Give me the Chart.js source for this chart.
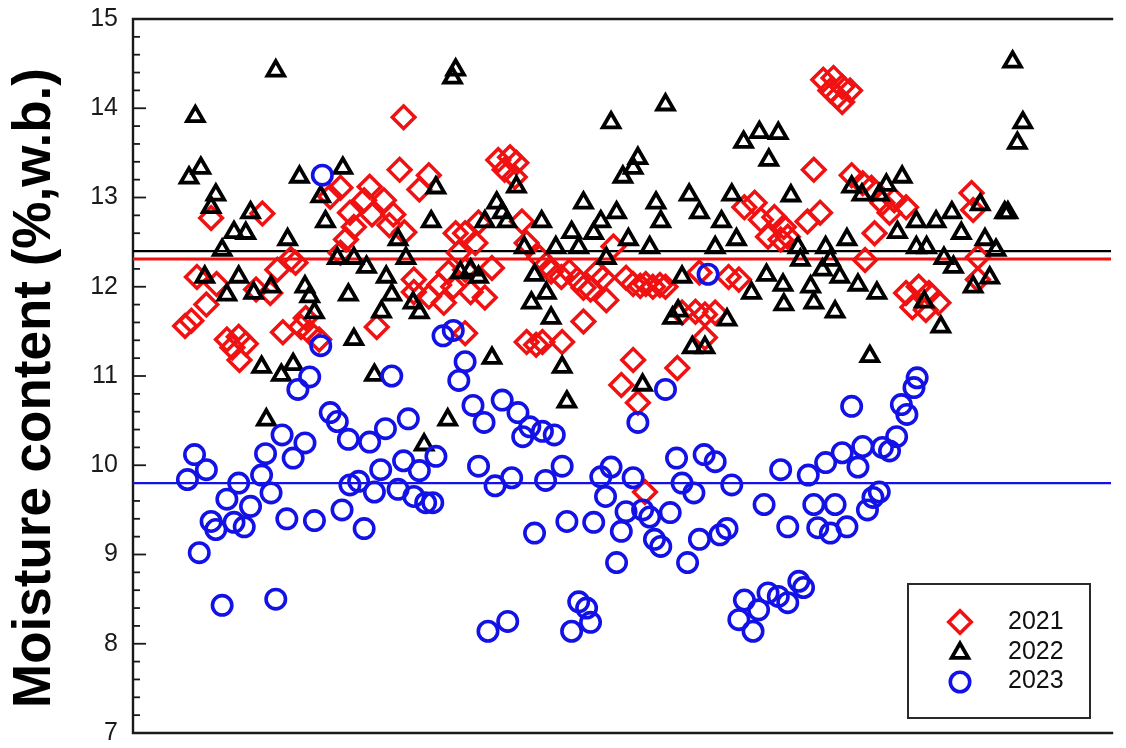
<!DOCTYPE html>
<html>
<head>
<meta charset="utf-8">
<title>Moisture content 2021-2023</title>
<script src="https://cdn.jsdelivr.net/npm/chart.js@4.4.0/dist/chart.umd.min.js"></script>
<style>
  html, body { margin: 0; padding: 0; background: #ffffff; }
  #wrap { width: 1126px; height: 748px; }
</style>
</head>
<body>
<div id="wrap"><canvas id="mc" width="1126" height="748"></canvas></div>
<script>
// Sample number (x) and moisture content in %, wet basis (y), one pair of arrays per year
const sample2021 = [6.6,7.4,8.1,9.3,9.9,10.6,11.9,12.6,13.4,13.5,14.3,15.6,16.4,17.4,18.3,19.0,20.0,20.6,21.3,21.9,22.4,23.6,25.0,26.3,26.3,27.0,27.5,28.0,29.3,30.0,30.3,30.9,31.8,32.5,33.0,33.8,34.3,34.4,35.6,35.6,36.3,37.5,37.5,38.8,39.4,40.0,40.6,40.9,41.3,42.1,42.1,42.1,42.8,43.4,43.8,44.6,45.5,46.3,47.1,47.8,48.4,48.6,49.3,49.9,49.9,51.1,51.5,51.9,52.4,53.0,54.3,54.4,55.3,56.3,57.1,57.1,58.0,58.8,59.6,60.0,60.9,61.9,62.5,63.4,63.4,64.0,64.3,64.9,65.0,65.9,66.8,67.5,69.0,69.6,71.3,71.8,72.5,72.5,73.8,75.5,76.8,77.5,78.8,79.6,80.5,81.3,82.1,82.5,83.0,85.5,86.3,87.1,87.5,88.4,88.8,89.3,89.9,89.9,90.9,91.1,92.5,92.8,93.6,94.0,95.0,95.9,96.5,98.0,98.0,98.8,99.6,100.5,100.9,102.1,106.3,106.5,107.1,107.1];
const mc2021 = [11.56,11.62,12.11,11.80,12.77,12.03,11.41,11.32,11.44,11.18,11.36,11.97,12.82,11.93,12.19,11.49,12.31,12.27,11.55,11.65,11.49,11.41,13.01,13.11,12.38,12.53,12.83,12.67,12.97,13.12,12.81,11.55,12.97,12.69,12.81,13.31,13.90,12.61,12.08,11.94,13.09,13.25,11.89,12.02,11.82,12.16,12.00,12.60,12.38,12.60,12.19,11.48,11.94,12.49,12.72,11.88,12.21,13.42,13.31,13.45,13.23,13.39,12.73,12.49,11.38,11.35,12.33,11.38,12.25,12.17,12.11,11.38,12.17,12.08,11.99,11.61,11.97,12.16,12.10,11.85,12.45,10.90,12.10,12.03,11.18,10.70,12.01,9.70,12.03,12.00,12.02,12.00,11.09,11.71,11.72,12.16,11.69,11.43,11.71,12.11,12.08,12.89,12.94,12.75,12.56,12.78,12.53,12.67,12.56,12.73,13.31,12.83,14.32,14.20,14.34,14.13,14.24,14.07,14.20,13.25,13.16,12.30,13.11,12.60,12.94,12.83,12.97,12.89,11.93,11.77,12.00,11.74,11.93,11.82,13.05,12.86,12.33,12.08];

const sample2022 = [7.1,7.9,8.6,9.1,9.9,10.5,11.3,11.9,12.8,13.4,14.3,14.9,15.3,16.3,16.9,17.5,18.1,18.8,19.6,20.3,21.1,21.8,22.4,23.0,23.8,24.4,25.9,26.6,27.3,28.0,28.0,29.6,30.6,31.5,32.1,32.8,33.6,34.6,35.5,36.3,36.9,37.8,38.4,39.9,40.5,40.9,41.5,42.8,43.8,44.6,45.5,46.1,46.8,47.4,48.6,49.6,50.5,50.9,51.8,52.4,53.0,53.6,54.4,55.0,55.6,56.5,57.1,58.4,59.3,60.0,60.6,61.3,62.1,62.8,63.4,64.0,64.6,65.5,66.3,66.9,67.5,68.4,69.1,69.6,70.5,70.9,71.8,72.5,73.8,74.6,75.3,75.9,76.5,77.4,78.4,79.4,80.3,80.6,81.8,82.4,82.5,83.4,84.3,84.6,85.9,86.3,87.4,87.8,88.4,89.0,89.6,90.5,91.1,91.9,92.4,93.4,94.3,94.6,95.5,96.9,97.5,99.3,99.3,100.3,100.6,101.8,102.4,102.8,103.8,104.0,105.0,106.5,107.4,108.0,108.6,109.4,110.5,110.9,111.5,112.1,112.8];
const mc2022 = [13.22,13.91,13.33,12.11,12.89,13.03,12.41,11.91,12.61,12.11,12.60,12.83,11.93,11.10,10.51,12.00,14.42,11.01,12.53,11.13,13.23,12.00,11.89,11.71,13.01,12.73,12.32,13.33,11.91,12.32,11.41,12.22,11.01,11.72,12.11,11.91,12.53,12.32,11.82,11.71,10.23,12.73,13.11,10.51,14.34,14.43,12.16,12.19,12.11,12.73,11.20,12.94,12.83,12.73,13.12,12.44,11.82,12.13,12.73,11.93,11.65,12.44,11.10,10.71,12.61,12.44,12.94,12.60,12.73,12.32,13.84,12.83,13.23,12.53,13.33,13.44,10.90,12.44,12.94,12.73,14.04,11.65,11.73,12.11,13.03,11.32,12.83,11.32,12.44,12.73,11.63,13.03,12.53,13.62,11.93,13.73,12.13,13.42,13.72,12.02,11.80,13.02,12.44,12.30,12.00,11.82,12.19,12.44,12.30,11.72,12.11,12.53,13.12,12.02,13.03,11.22,11.93,13.03,13.14,12.61,13.23,12.73,12.44,11.83,12.44,12.73,11.55,12.32,12.83,12.22,12.60,12.00,12.92,12.53,12.10,12.41,12.83,12.83,14.52,13.61,13.84];

const sample2023 = [6.9,7.8,8.4,9.3,9.9,10.5,11.3,11.9,12.8,13.4,14.1,14.9,16.3,16.8,17.5,18.1,18.9,19.5,20.3,20.9,21.8,22.4,23.0,23.8,24.0,25.0,25.9,26.5,27.3,27.5,28.6,29.3,30.0,30.6,31.4,32.0,32.8,33.6,34.3,34.9,35.6,36.3,37.1,38.0,38.4,39.3,40.6,41.3,42.1,43.1,43.8,44.5,45.0,45.9,46.8,47.5,48.0,48.8,49.4,50.3,50.9,51.9,52.3,53.4,54.4,55.0,55.6,56.5,57.5,58.0,58.4,59.3,59.9,60.6,61.3,61.9,62.5,63.4,64.0,64.6,65.5,66.1,66.9,67.5,68.1,68.9,69.6,70.3,71.1,71.8,72.4,72.9,73.8,74.4,75.3,75.9,76.8,77.5,78.6,79.3,80.0,80.5,81.8,82.1,83.0,83.0,84.4,85.0,85.6,86.3,86.8,87.8,88.4,89.0,89.9,90.5,91.1,91.9,92.5,93.1,93.8,94.6,95.0,95.9,96.8,97.4,98.1,99.0,99.4];
const mc2023 = [9.84,10.12,9.02,9.95,9.37,9.28,8.43,9.62,9.36,9.80,9.31,9.54,9.89,10.13,9.69,8.50,10.34,9.40,10.08,10.85,10.25,10.99,9.38,11.34,13.25,10.59,10.49,9.50,10.29,9.78,9.82,9.29,10.26,9.70,9.95,10.41,11.00,9.73,10.05,10.52,9.65,9.94,9.58,9.58,10.10,11.45,11.51,10.95,11.16,10.67,9.99,10.48,8.14,9.77,10.73,8.25,9.86,10.59,10.32,10.43,9.24,10.38,9.83,10.34,9.99,9.37,8.14,8.47,8.40,8.24,9.36,9.87,9.65,9.98,8.91,9.26,9.48,9.86,10.48,9.50,9.42,9.17,9.09,10.85,9.47,10.08,9.80,8.91,9.69,9.17,10.12,12.14,10.04,9.22,9.29,9.78,8.27,8.49,8.14,8.38,9.56,8.57,8.53,9.95,9.31,8.46,8.70,8.63,9.89,9.56,9.30,10.03,9.24,9.56,10.14,9.31,10.66,9.98,10.21,9.50,9.64,9.70,10.20,10.16,10.32,10.68,10.57,10.87,10.98];

// Yearly mean moisture content, drawn as horizontal reference lines
const yearLabels = ['2021', '2022', '2023'];
const yearMeans = [12.31, 12.40, 9.80];

// Value axis
const yTicks = [7, 8, 9, 10, 11, 12, 13, 14, 15];
const yMinorStep = 0.2;
const sampleRange = [0, 124];

const FONT = "'Liberation Sans', Arial, Helvetica, sans-serif";
const RED = '#f01212';
const BLACK = '#000000';
const BLUE = '#1212e6';

const toPoints = (xs, ys) => xs.map((x, i) => ({ x: x, y: ys[i] }));
const meanLine = (v) => [{ x: sampleRange[0], y: v }, { x: sampleRange[1], y: v }];

const markerStyle = {
  '2021': { pointStyle: 'rectRot', radius: 11.3, borderWidth: 3.5, color: RED },
  '2022': { pointStyle: 'triangle', radius: 9.6, borderWidth: 3.8, color: BLACK },
  '2023': { pointStyle: 'circle', radius: 9.7, borderWidth: 3.6, color: BLUE }
};

function scatterSet(label, xs, ys, order) {
  const m = markerStyle[label];
  return {
    type: 'scatter',
    label: label,
    data: toPoints(xs, ys),
    order: order,
    pointStyle: m.pointStyle,
    pointRadius: m.radius,
    pointBorderWidth: m.borderWidth,
    pointBorderColor: m.color,
    pointBackgroundColor: 'rgba(0,0,0,0)',
    showLine: false
  };
}

function meanSet(i, color, width) {
  return {
    type: 'line',
    label: yearLabels[i] + ' mean',
    data: meanLine(yearMeans[i]),
    order: 10 + i,
    borderColor: color,
    borderWidth: width,
    pointRadius: 0,
    fill: false,
    tension: 0
  };
}

// Frame with inward major/minor ticks on the value axis
const framePlugin = {
  id: 'frame',
  beforeDatasetsDraw(chart) {
    const { ctx, chartArea: a, scales: { y } } = chart;
    ctx.save();
    ctx.strokeStyle = '#1a1a1a';
    ctx.lineWidth = 1.8;
    const lo = yTicks[0], hi = yTicks[yTicks.length - 1];
    const n = Math.round((hi - lo) / yMinorStep);
    for (let i = 0; i <= n; i++) {
      const v = lo + i * yMinorStep;
      const py = y.getPixelForValue(v);
      const major = (i % Math.round(1 / yMinorStep)) === 0;
      ctx.beginPath();
      ctx.moveTo(a.left, py);
      ctx.lineTo(a.left + (major ? 13 : 7), py);
      ctx.stroke();
    }
    ctx.lineWidth = 2.4;
    ctx.beginPath();
    ctx.moveTo(a.right + 2, a.top);
    ctx.lineTo(a.left, a.top);
    ctx.lineTo(a.left, a.bottom);
    ctx.lineTo(a.right + 2, a.bottom);
    ctx.stroke();
    ctx.restore();
  }
};

// Rotated value-axis title
const titlePlugin = {
  id: 'yTitle',
  afterDraw(chart) {
    const { ctx } = chart;
    ctx.save();
    ctx.translate(50, 388);
    ctx.rotate(-Math.PI / 2);
    ctx.fillStyle = '#000000';
    ctx.font = "bold 53px " + FONT;
    ctx.textAlign = 'center';
    ctx.textBaseline = 'alphabetic';
    ctx.fillText('Moisture content (%,w.b.)', 0, 0);
    ctx.restore();
  }
};

function drawMarker(ctx, m, x, y) {
  ctx.save();
  ctx.strokeStyle = m.color;
  ctx.fillStyle = 'rgba(0,0,0,0)';
  ctx.lineWidth = m.borderWidth;
  if (Chart.helpers && Chart.helpers.drawPoint) {
    Chart.helpers.drawPoint(ctx, { pointStyle: m.pointStyle, radius: m.radius, rotation: 0, borderWidth: m.borderWidth }, x, y);
  } else {
    const r = m.radius;
    ctx.beginPath();
    if (m.pointStyle === 'rectRot') {
      ctx.moveTo(x, y - r); ctx.lineTo(x + r, y); ctx.lineTo(x, y + r); ctx.lineTo(x - r, y); ctx.closePath();
    } else if (m.pointStyle === 'triangle') {
      for (let k = 0; k < 3; k++) {
        const t = k * 2 * Math.PI / 3;
        const px = x + Math.sin(t) * r, py = y - Math.cos(t) * r;
        if (k === 0) ctx.moveTo(px, py); else ctx.lineTo(px, py);
      }
      ctx.closePath();
    } else {
      ctx.arc(x, y, r, 0, 2 * Math.PI);
    }
    ctx.stroke();
  }
  ctx.restore();
}

// Boxed legend in the lower right of the plot
const legendPlugin = {
  id: 'boxLegend',
  afterDraw(chart) {
    const { ctx } = chart;
    ctx.save();
    ctx.fillStyle = '#ffffff';
    ctx.fillRect(908, 584, 182, 134);
    ctx.strokeStyle = '#2a2a2a';
    ctx.lineWidth = 2;
    ctx.strokeRect(908, 584, 182, 134);
    const rows = [622, 653, 682];
    const textRows = [622, 652, 681];
    yearLabels.forEach((lab, i) => {
      drawMarker(ctx, markerStyle[lab], 960, rows[i]);
      ctx.fillStyle = '#111111';
      ctx.font = "25px " + FONT;
      ctx.textAlign = 'left';
      ctx.textBaseline = 'middle';
      ctx.fillText(lab, 1008, textRows[i]);
    });
    ctx.restore();
  }
};

new Chart(document.getElementById('mc'), {
  type: 'scatter',
  data: {
    datasets: [
      scatterSet('2023', sample2023, mc2023, 1),
      scatterSet('2022', sample2022, mc2022, 2),
      scatterSet('2021', sample2021, mc2021, 3),
      meanSet(0, RED, 3),
      meanSet(1, BLACK, 2.2),
      meanSet(2, BLUE, 2.4)
    ]
  },
  options: {
    responsive: false,
    animation: false,
    events: [],
    devicePixelRatio: 1,
    layout: { padding: { top: 19, bottom: 15, left: 0, right: 0 } },
    plugins: {
      legend: { display: false },
      tooltip: { enabled: false },
      title: { display: false }
    },
    scales: {
      x: {
        type: 'linear',
        min: sampleRange[0],
        max: sampleRange[1],
        display: false
      },
      y: {
        type: 'linear',
        min: yTicks[0],
        max: yTicks[yTicks.length - 1],
        afterFit(scale) {
          scale.width = 133;
          scale.paddingTop = 0;
          scale.paddingBottom = 0;
        },
        afterBuildTicks(scale) { scale.ticks = yTicks.map(v => ({ value: v })); },
        grid: { display: false, drawTicks: false },
        border: { display: false },
        ticks: {
          padding: 15,
          color: '#1a1a1a',
          font: { family: FONT, size: 25 }
        }
      }
    }
  },
  plugins: [framePlugin, titlePlugin, legendPlugin]
});
</script>
</body>
</html>
